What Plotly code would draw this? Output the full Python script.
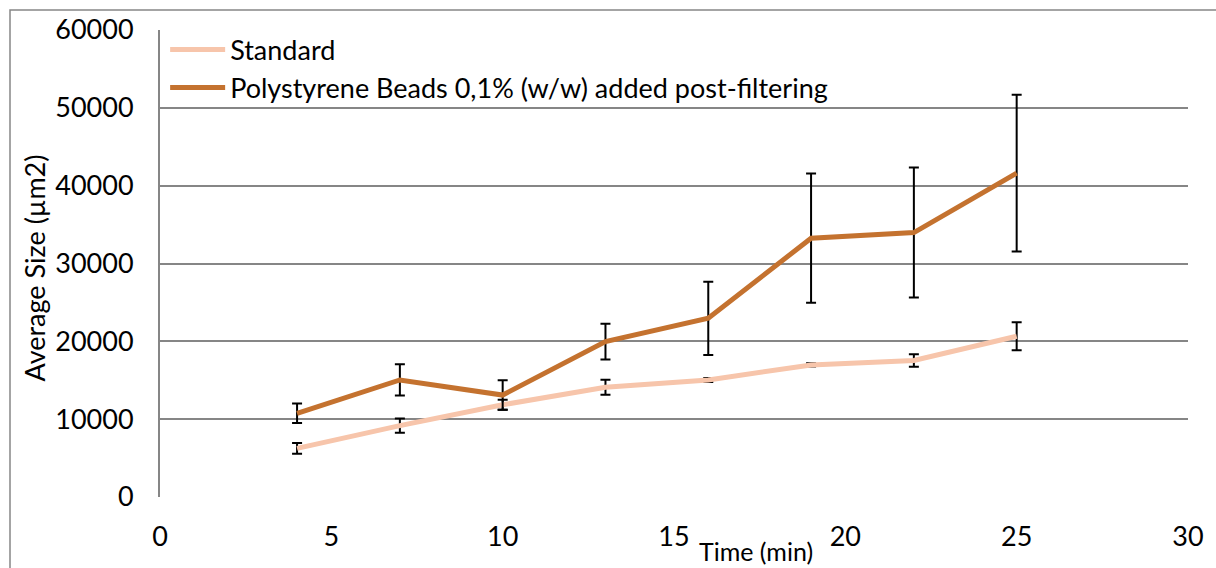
import plotly.graph_objects as go

time_min = [4, 7, 10, 13, 16, 19, 22, 25]
standard = [6250, 9170, 11850, 14100, 15040, 16970, 17550, 20650]
standard_err = [700, 900, 650, 950, 250, 200, 800, 1800]
beads = [10750, 15040, 13100, 19970, 22960, 33250, 33970, 41610]
beads_err = [1250, 2000, 1900, 2300, 4700, 8300, 8350, 10070]

x_ticks = [0, 5, 10, 15, 20, 25, 30]
y_ticks = [0, 10000, 20000, 30000, 40000, 50000, 60000]

x_title = "Time (min)"
y_title = "Average Size (µm2)"

FONT = "Lato"
GRID = "#868686"

fig = go.Figure()
fig.add_trace(go.Scatter(
    x=time_min, y=standard, mode="lines", name="Standard",
    line=dict(color="#F7C5AB", width=5),
    error_y=dict(type="data", array=standard_err, visible=True,
                 color="black", thickness=2, width=5),
))
fig.add_trace(go.Scatter(
    x=time_min, y=beads, mode="lines",
    name="Polystyrene Beads 0,1% (w/w) added post-filtering",
    line=dict(color="#C4722F", width=5),
    error_y=dict(type="data", array=beads_err, visible=True,
                 color="black", thickness=2, width=5),
))

fig.update_layout(
    width=1216, height=568,
    margin=dict(l=160, r=28, t=30, b=71),
    paper_bgcolor="white", plot_bgcolor="white",
    font=dict(family=FONT, size=27, color="black"),
    showlegend=True,
    legend=dict(x=0.005, y=1.01, xanchor="left", yanchor="top",
                bgcolor="rgba(0,0,0,0)", font=dict(size=27),
                tracegroupgap=0, itemwidth=55),
    xaxis=dict(range=[0, 30], tickvals=x_ticks, tickformat="d",
               showgrid=False, zeroline=False,
               showline=False, ticks="", ticklabelstandoff=21,
               automargin=False, fixedrange=True),
    yaxis=dict(range=[0, 60000], tickvals=y_ticks, tickformat="d",
               showgrid=True,
               gridcolor=GRID, gridwidth=2, zeroline=False,
               showline=True, linecolor=GRID, linewidth=2, ticks="",
               ticklabelstandoff=19, automargin=False, fixedrange=True),
    annotations=[
        dict(text=x_title, xref="paper", yref="paper",
             x=(756 - 160) / 1028, y=-(567 - 497) / 467,
             xanchor="center", yanchor="bottom", showarrow=False,
             borderpad=0, font=dict(size=25)),
        dict(text=y_title, xref="paper", yref="paper",
             x=(34 - 160) / 1028, y=0.5 - 5 / 467,
             xanchor="center", yanchor="middle", textangle=-90,
             showarrow=False, font=dict(size=27)),
    ],
    shapes=[dict(type="rect", xref="paper", yref="paper",
                 x0=(10 - 160) / 1028, x1=1.05, y0=-0.2, y1=1 + 20 / 467,
                 line=dict(color=GRID, width=1.5), layer="below")],
)

fig.write_html("out.html")
